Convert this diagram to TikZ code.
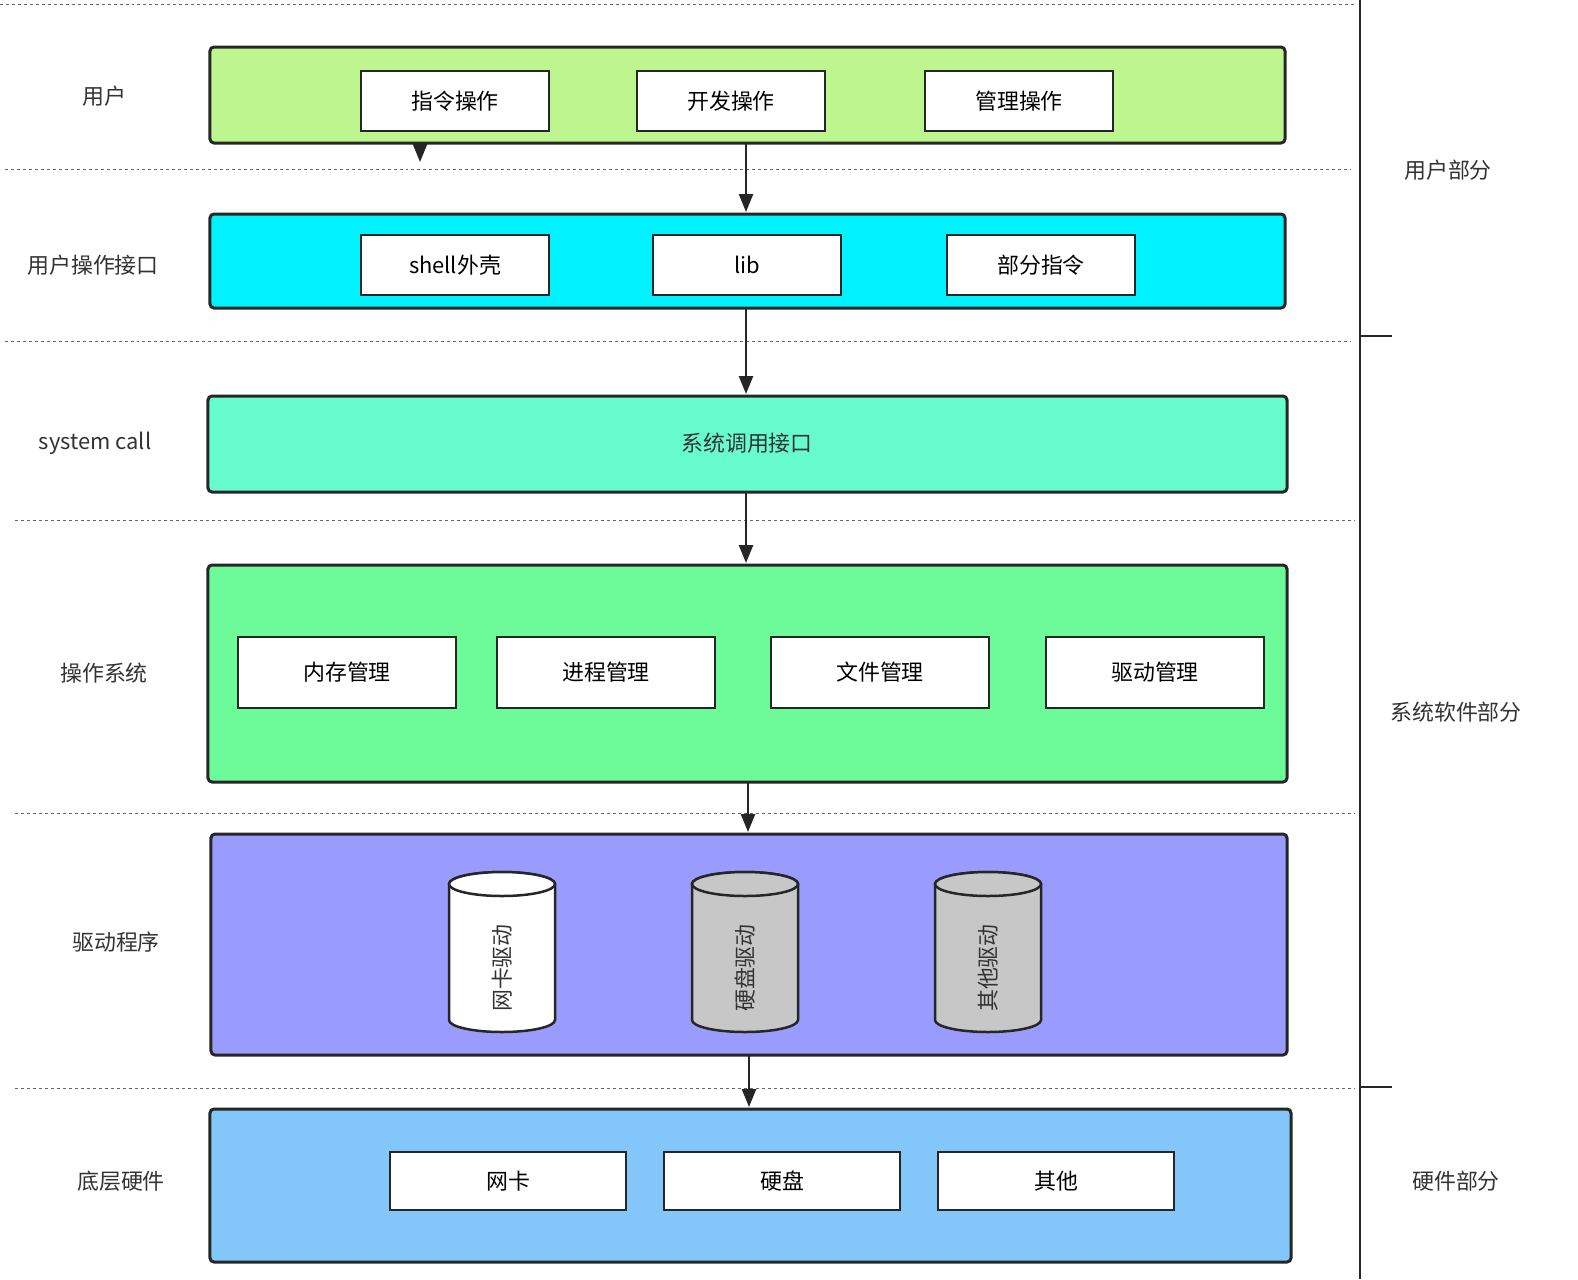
\documentclass[tikz,border=0pt]{standalone}
\usepackage{fontspec}
\setmainfont{Noto Sans CJK SC}
\usetikzlibrary{shapes.geometric,arrows.meta}
\definecolor{cA}{HTML}{BDF58E}
\definecolor{cB}{HTML}{00F2FF}
\definecolor{cC}{HTML}{66FCCB}
\definecolor{cD}{HTML}{6CFB98}
\definecolor{cE}{HTML}{9A9CFD}
\definecolor{cF}{HTML}{82C6FA}
\begin{document}
\begin{tikzpicture}[x=1bp,y=-1bp,
  layer/.style={draw=black!85,line width=3bp,rounded corners=4bp},
  item/.style={draw=black!85,fill=white,line width=2bp,font=\fontsize{22}{26}\selectfont},
  lab/.style={font=\fontsize{22}{26}\selectfont,text=black!80},
  dline/.style={dashed,draw=black!60,line width=1bp},
  arr/.style={draw=black!85,line width=2.5bp,-{Triangle[length=18bp,width=14bp]}},
  cylb/.style={draw=black!85,line width=2.5bp}]
\useasboundingbox (0,0) rectangle (1578,1279);
\fill[white] (0,0) rectangle (1578,1279);
% dashed lines
\draw[dline] (0,4)--(1355,4);
\draw[dline] (5,169)--(1350,169);
\draw[dline] (5,341)--(1350,341);
\draw[dline] (15,520)--(1355,520);
\draw[dline] (15,813)--(1355,813);
\draw[dline] (15,1088)--(1355,1088);
\draw[line width=2.5bp,black!85] (1360,0)--(1360,1279);
\draw[line width=2.5bp,black!85] (1360,336)--(1392,336);
\draw[line width=2.5bp,black!85] (1360,1087)--(1392,1087);
% layers
\node[layer,fill=cA,minimum width=1075bp,minimum height=96bp] (L1) at (747.5,95) {};
\node[layer,fill=cB,minimum width=1075bp,minimum height=94bp] (L2) at (747.5,261) {};
\node[layer,fill=cC,minimum width=1079bp,minimum height=96bp] (L3) at (747.5,444) {};
\node[lab,anchor=center] (t3) at (747,443) {系统调用接口};
\node[layer,fill=cD,minimum width=1079bp,minimum height=217bp] (L4) at (747.5,673.5) {};
\node[layer,fill=cE,minimum width=1076bp,minimum height=221bp] (L5) at (749,944.5) {};
\node[layer,fill=cF,minimum width=1081bp,minimum height=153bp] (L6) at (750.5,1185.5) {};
% items
\node[item,minimum width=188bp,minimum height=60bp] (a1) at (455,101) {指令操作};
\node[item,minimum width=188bp,minimum height=60bp] (a2) at (731,101) {开发操作};
\node[item,minimum width=188bp,minimum height=60bp] (a3) at (1019,101) {管理操作};
\node[item,minimum width=188bp,minimum height=60bp] (b1) at (455,265) {shell外壳};
\node[item,minimum width=188bp,minimum height=60bp] (b2) at (747,265) {lib};
\node[item,minimum width=188bp,minimum height=60bp] (b3) at (1041,265) {部分指令};
\node[item,minimum width=218bp,minimum height=71bp] (d1) at (347,672.5) {内存管理};
\node[item,minimum width=218bp,minimum height=71bp] (d2) at (606,672.5) {进程管理};
\node[item,minimum width=218bp,minimum height=71bp] (d3) at (880,672.5) {文件管理};
\node[item,minimum width=218bp,minimum height=71bp] (d4) at (1155,672.5) {驱动管理};
\node[item,minimum width=236bp,minimum height=58bp] (f1) at (508,1181) {网卡};
\node[item,minimum width=236bp,minimum height=58bp] (f2) at (782,1181) {硬盘};
\node[item,minimum width=236bp,minimum height=58bp] (f3) at (1056,1181) {其他};
% cylinders
\foreach \cx/\cf in {502/white,745/black!22,988/black!22}{
  \draw[cylb,fill=\cf] (\cx-53,884) -- (\cx-53,1020) arc[start angle=180,end angle=0,x radius=53,y radius=12] -- (\cx+53,884) arc[start angle=0,end angle=-180,x radius=53,y radius=12] -- cycle;
  \draw[cylb,fill=\cf] (\cx,884) ellipse [x radius=53,y radius=12];
}
\node[lab,rotate=90] (c1t) at (502,968) {网卡驱动};
\node[lab,rotate=90] (c2t) at (745,968) {硬盘驱动};
\node[lab,rotate=90] (c3t) at (988,968) {其他驱动};
% arrows
\coordinate (s0) at (420,146);
\coordinate (s1) at (420,162);
\draw[arr] (s0)--(s1);
\coordinate (p1) at (746,143);
\coordinate (q1) at (746,212);
\draw[arr] (p1)--(q1);
\coordinate (p2) at (746,308);
\coordinate (q2) at (746,394);
\draw[arr] (p2)--(q2);
\coordinate (p3) at (746,492);
\coordinate (q3) at (746,563);
\draw[arr] (p3)--(q3);
\coordinate (p4) at (748,782);
\coordinate (q4) at (748,832);
\draw[arr] (p4)--(q4);
\coordinate (p5) at (749,1055);
\coordinate (q5) at (749,1107);
\draw[arr] (p5)--(q5);
% side labels
\node[lab] (l1) at (104,96) {用户};
\node[lab] (l2) at (93,265) {用户操作接口};
\node[lab] (l3) at (95,443) {system call};
\node[lab] (l4) at (104,673) {操作系统};
\node[lab] (l5) at (116,942) {驱动程序};
\node[lab] (l6) at (121,1181) {底层硬件};
\node[lab] (r1) at (1448,170) {用户部分};
\node[lab] (r2) at (1456,712) {系统软件部分};
\node[lab] (r3) at (1456,1181) {硬件部分};
\end{tikzpicture}
\end{document}
